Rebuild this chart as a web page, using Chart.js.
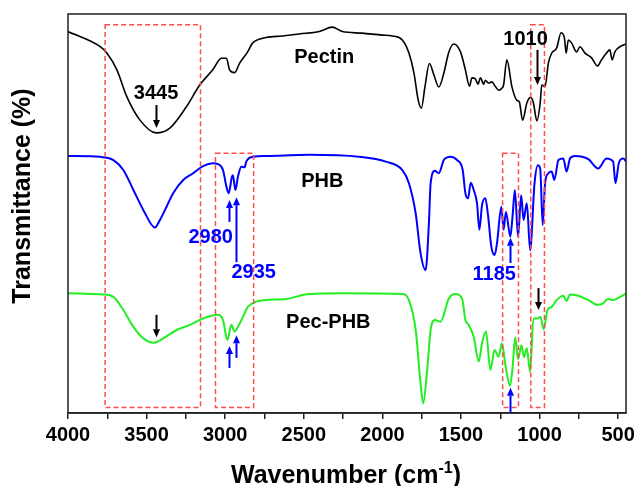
<!DOCTYPE html>
<html>
<head>
<meta charset="utf-8">
<script src="https://cdn.jsdelivr.net/npm/chart.js@4.4.1/dist/chart.umd.min.js"></script>
<style>
  html, body { margin: 0; padding: 0; background: #fff; }
  #wrap { width: 639px; height: 486px; position: relative; }
</style>
</head>
<body>
<div id="wrap"><canvas id="ftirChart"></canvas></div>
<script>
// x ticks (cm-1), major every 500, minor every 250
const xTickValues = [4000, 3750, 3500, 3250, 3000, 2750, 2500, 2250, 2000, 1750, 1500, 1250, 1000, 750, 500];

const seriesNames = ["Pectin", "PHB", "Pec-PHB"];

// Pectin (offset trace, top)
const pectinWn = [4000,3795,3753,3689,3626,3542,3440,3352,3246,3162,3079,3024,2992,2972,2940,2908,2857,2826,2739,2636,2528,2401,2319,2255,2129,2002,1937,1873,1831,1799,1772,1752,1729,1701,1672,1641,1609,1577,1546,1503,1472,1446,1430,1408,1392,1376,1356,1345,1324,1303,1281,1260,1240,1229,1208,1176,1145,1129,1108,1081,1056,1039,1017,996,986,965,944,923,891,863,842,831,817,796,764,743,711,669,631,606,574,553,538,521,479,449];
const pectinT = [95.6,91.8,90.2,86.0,79.3,73.4,70.2,71.4,76.8,82.2,86.0,88.9,88.9,86.0,85.3,87.7,90.5,92.7,94.1,94.5,95.0,95.6,96.7,95.6,95.2,94.7,94.5,93.5,90.2,85.2,78.4,76.4,81.8,87.6,84.7,81.7,85.2,90.5,92.5,90.5,86.0,81.9,84.0,83.7,82.4,84.0,82.4,83.4,82.7,83.0,81.8,80.9,81.4,82.2,88.5,81.8,78.4,78.0,73.4,77.7,79.1,77.7,73.2,77.7,82.2,81.8,87.7,90.2,91.5,95.3,94.0,90.2,93.5,92.7,90.5,91.8,90.2,89.0,87.0,88.5,90.2,91.0,88.5,90.5,92.0,92.5];

// PHB (middle)
const phbWn = [4000,3795,3711,3648,3584,3521,3447,3415,3373,3331,3267,3204,3141,3077,3046,3014,2992,2978,2957,2951,2935,2919,2897,2876,2866,2824,2739,2465,2148,1978,1873,1831,1788,1757,1725,1704,1693,1666,1641,1609,1567,1525,1489,1472,1455,1438,1419,1398,1383,1366,1345,1328,1307,1286,1271,1243,1229,1214,1186,1172,1157,1137,1117,1102,1081,1060,1032,1011,996,980,965,944,923,906,880,849,828,806,774,690,627,574,532,517,496,468,449];
const phbT = [64.4,64.2,63.4,60.9,55.9,50.9,46.5,48.4,51.7,55.1,58.4,60.1,61.9,62.6,62.4,60.9,56.7,55.1,59.2,59.6,55.9,59.2,61.7,61.6,63.0,64.2,64.4,64.7,64.2,63.0,60.9,57.6,50.0,40.0,35.8,47.6,57.6,60.7,60.1,63.4,64.2,63.4,60.9,55.1,53.8,57.7,55.9,52.6,45.9,52.1,53.8,49.6,41.7,39.6,42.5,51.7,45.9,50.4,44.2,49.2,55.9,44.2,54.6,48.4,52.6,40.8,57.6,62.1,61.3,47.1,57.6,60.1,60.5,58.4,63.4,63.8,60.5,63.8,64.4,63.6,61.3,63.8,63.0,57.6,62.6,63.8,63.0];

// Pec-PHB (bottom)
const pecPhbWn = [4000,3774,3711,3648,3584,3521,3453,3394,3309,3225,3141,3046,3014,2986,2961,2940,2919,2887,2856,2802,2739,2612,2465,2254,1873,1831,1788,1757,1740,1715,1693,1666,1630,1577,1535,1493,1472,1451,1419,1387,1366,1341,1313,1286,1260,1240,1214,1188,1172,1155,1137,1115,1099,1081,1060,1039,1011,996,973,950,923,891,849,828,806,754,690,631,595,564,532,489,449];
const pecPhbT = [30.0,29.7,29.1,25.8,21.6,18.7,17.6,18.7,20.8,22.1,23.7,24.6,23.3,18.3,22.1,20.4,21.6,24.1,26.6,27.9,28.3,28.6,29.8,30.0,29.8,28.3,20.8,7.4,2.4,10.8,20.8,23.3,22.9,28.7,29.8,28.7,23.3,22.1,19.1,12.9,17.5,20.4,10.8,15.8,14.1,17.5,11.2,6.8,11.2,18.9,13.5,17.0,14.0,16.2,10.3,23.7,23.7,24.1,21.0,25.8,26.6,28.3,29.4,28.1,29.7,29.4,28.3,27.1,27.5,28.6,28.3,29.1,30.0];

// marked band positions (cm-1)
const peakLabels = ["3445", "1010", "2980", "2935", "1185"];

const toPoints = (wn, t) => wn.map((w, i) => ({ x: w, y: t[i] }));

const BLUE = "#0000ff";
const GREEN = "#22ee22";
const RED = "#ff4d4d";
const FONT = "'Liberation Sans', Arial, sans-serif";

// dashed boxes: [wnLeft, wnRight, top, bottom]
const boxes = [
    [3764, 3157, 97.3, 1.4],
    [3062, 2819, 65.1, 1.4],
    [1235, 1134, 65.1, 1.4],
    [1056, 969, 97.3, 1.4]
];

// arrows: [wn, from, to, colour]
const arrows = [
    [3440, 77.2, 71.4, "#000"],
    [1015, 91.0, 82.2, "#000"],
    [2978, 47.9, 53.4, BLUE],
    [2934, 37.8, 54.1, BLUE],
    [1189, 37.6, 43.9, BLUE],
    [3440, 24.6, 19.0, "#000"],
    [2978, 11.3, 16.8, BLUE],
    [2934, 13.8, 19.5, BLUE],
    [1013, 31.3, 25.8, "#000"],
    [1188, 0.0, 6.3, BLUE]
];

// text labels: [text, wn, y, colour]
const texts = [
    [seriesNames[0], 2370, 89.2, "#000"],
    [seriesNames[1], 2382, 57.9, "#000"],
    [seriesNames[2], 2344, 22.8, "#000"],
    [peakLabels[0], 3440, 80.2, "#000"],
    [peakLabels[1], 1089, 93.5, "#000"],
    [peakLabels[2], 3092, 44.1, BLUE],
    [peakLabels[3], 2819, 35.1, BLUE],
    [peakLabels[4], 1288, 34.6, BLUE]
];

const decorPlugin = {
    id: "decor",
    afterDatasetsDraw(chart) {
        const { ctx, chartArea: a, scales: { x, y } } = chart;
        ctx.save();

        // dashed boxes
        ctx.strokeStyle = RED;
        ctx.lineWidth = 1.5;
        ctx.setLineDash([5, 3]);
        boxes.forEach(b => {
            const x1 = x.getPixelForValue(b[0]), x2 = x.getPixelForValue(b[1]);
            const y1 = y.getPixelForValue(b[2]), y2 = y.getPixelForValue(b[3]);
            ctx.strokeRect(x1, y1, x2 - x1, y2 - y1);
        });
        ctx.setLineDash([]);

        // arrows
        arrows.forEach(ar => {
            const px = Math.round(x.getPixelForValue(ar[0])) + 0.5;
            const p1 = y.getPixelForValue(ar[1]), p2 = y.getPixelForValue(ar[2]);
            const dir = p2 > p1 ? 1 : -1;
            const head = 8;
            ctx.strokeStyle = ar[3];
            ctx.fillStyle = ar[3];
            ctx.lineWidth = 2;
            ctx.beginPath();
            ctx.moveTo(px, p1);
            ctx.lineTo(px, p2 - dir * head);
            ctx.stroke();
            ctx.beginPath();
            ctx.moveTo(px, p2);
            ctx.lineTo(px - 3.5, p2 - dir * head);
            ctx.lineTo(px + 3.5, p2 - dir * head);
            ctx.closePath();
            ctx.fill();
        });

        // labels
        ctx.font = "bold 20px " + FONT;
        ctx.textAlign = "center";
        ctx.textBaseline = "middle";
        texts.forEach(t => {
            ctx.fillStyle = t[3];
            ctx.fillText(t[0], x.getPixelForValue(t[1]), y.getPixelForValue(t[2]));
        });

        // frame
        ctx.strokeStyle = "#222";
        ctx.lineWidth = 1.5;
        ctx.strokeRect(a.left, a.top, a.right - a.left, a.bottom - a.top);

        // y title
        ctx.fillStyle = "#000";
        ctx.font = "bold 25px " + FONT;
        ctx.save();
        ctx.translate(23, 196);
        ctx.rotate(-Math.PI / 2);
        ctx.textAlign = "center";
        ctx.textBaseline = "middle";
        ctx.fillText("Transmittance (%)", 0, 0);
        ctx.restore();

        // x title with superscript
        const main = "Wavenumber (cm", sup = "-1", tail = ")";
        const bigFont = "bold 25px " + FONT, supFont = "bold 16px " + FONT;
        ctx.font = bigFont;
        const w1 = ctx.measureText(main).width, w3 = ctx.measureText(tail).width;
        ctx.font = supFont;
        const w2 = ctx.measureText(sup).width;
        let sx = 346 - (w1 + w2 + w3) / 2;
        const by = 483;
        ctx.textAlign = "left";
        ctx.textBaseline = "alphabetic";
        ctx.font = bigFont;
        ctx.fillText(main, sx, by);
        sx += w1;
        ctx.font = supFont;
        ctx.fillText(sup, sx, by - 10);
        sx += w2;
        ctx.font = bigFont;
        ctx.fillText(tail, sx, by);

        ctx.restore();
    }
};

const ctxEl = document.getElementById("ftirChart");

new Chart(ctxEl, {
    type: "line",
    data: {
        datasets: [
            { label: seriesNames[0], data: toPoints(pectinWn, pectinT), borderColor: "#000", borderWidth: 1.6 },
            { label: seriesNames[1], data: toPoints(phbWn, phbT), borderColor: BLUE, borderWidth: 2 },
            { label: seriesNames[2], data: toPoints(pecPhbWn, pecPhbT), borderColor: GREEN, borderWidth: 2 }
        ]
    },
    options: {
        responsive: true,
        maintainAspectRatio: false,
        animation: false,
        parsing: false,
        elements: {
            point: { radius: 0 },
            line: { cubicInterpolationMode: "monotone", fill: false }
        },
        layout: {
            padding: { left: 68, right: 11, top: 14, bottom: 0 }
        },
        plugins: {
            legend: { display: false },
            tooltip: { enabled: false }
        },
        scales: {
            x: {
                type: "linear",
                reverse: true,
                min: 450,
                max: 4000,
                afterBuildTicks: (scale) => {
                    scale.ticks = xTickValues.map(v => ({ value: v }));
                },
                afterFit: (scale) => {
                    scale.height = 73;
                },
                ticks: {
                    autoSkip: false,
                    maxRotation: 0,
                    padding: 4,
                    color: "#000",
                    font: { family: FONT, size: 20, weight: "bold" },
                    callback: (v) => (v % 500 === 0 ? String(v) : "")
                },
                grid: {
                    drawOnChartArea: false,
                    drawTicks: true,
                    tickLength: 6,
                    color: "#222",
                    lineWidth: 1.5
                },
                border: { display: true, color: "#222", width: 1.5 }
            },
            y: {
                display: false,
                min: 0,
                max: 100
            }
        }
    },
    plugins: [decorPlugin]
});
</script>
</body>
</html>
